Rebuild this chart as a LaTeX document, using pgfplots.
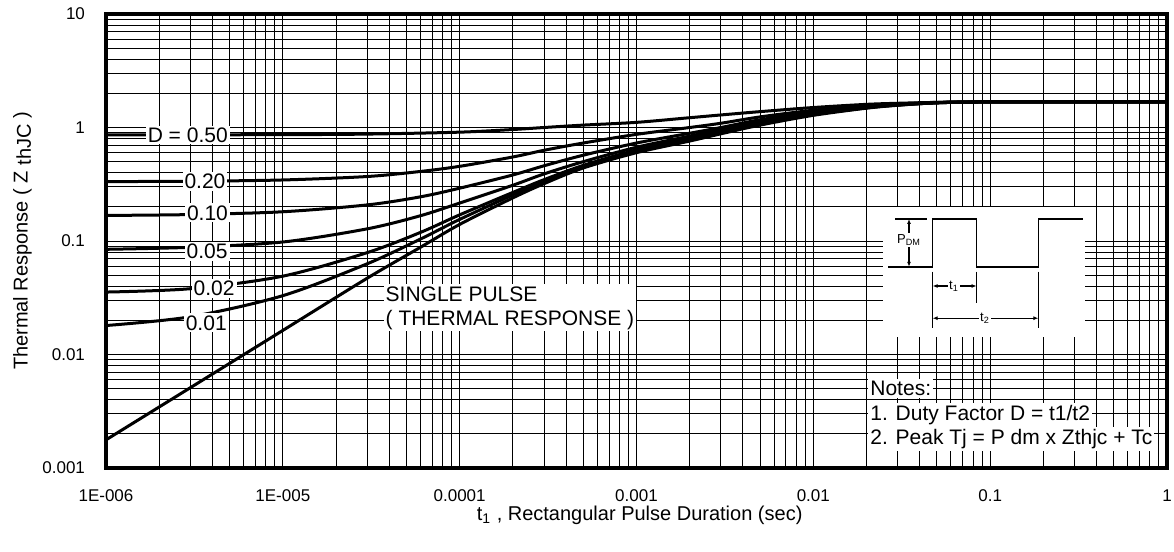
\documentclass[border=0pt]{standalone}
\usepackage{pgfplots}
\pgfplotsset{compat=1.18}
\usetikzlibrary{arrows.meta}
\usepackage{fontspec}
\setmainfont{Liberation Sans}
\tikzset{lbl/.style={fill=white, inner sep=1pt, font=\fontsize{10.5}{12}\selectfont}}
\pgfplotscreateplotcyclelist{blk}{black,solid,line width=1.5pt,smooth,mark=none\\}
\begin{document}
\begin{tikzpicture}
\useasboundingbox (-53pt,-42pt) rectangle (534pt,234pt);
\begin{axis}[
  at={(0pt,0pt)}, anchor=south west,
  width=530.5pt, height=227pt, scale only axis,
  xmode=log, ymode=log,
  xmin=1e-6, xmax=1, ymin=1e-3, ymax=10,
  xtick={1e-6,1e-5,1e-4,1e-3,1e-2,1e-1,1},
  xticklabels={1E-006,1E-005,0.0001,0.001,0.01,0.1,1},
  ytick={1e-3,1e-2,1e-1,1,10},
  yticklabels={0.001,0.01,0.1,1,10},
  grid=both,
  major grid style={black, line width=0.5pt},
  minor grid style={black, line width=0.5pt},
  major tick length=0pt, minor tick length=0pt,
  axis line style={black, line width=1.8pt},
  tick label style={font=\fontsize{8.5}{10}\selectfont},
  xticklabel style={anchor=center, yshift=-14pt},
  yticklabel style={anchor=east, xshift=-7pt},
  xlabel={t\textsubscript{1} , Rectangular Pulse Duration (sec)},
  ylabel={Thermal Response ( Z \raisebox{-0.3ex}{thJC} )},
  label style={font=\fontsize{10}{12}\selectfont},
  xlabel style={at={(axis description cs:0.503,-0.1035)}, anchor=center},
  ylabel style={at={(axis description cs:-0.0787,0.5)}, anchor=center},
  cycle list name=blk,
]
% D = 0.50
\addplot coordinates {(1e-6,0.86)(1e-5,0.865)(3e-5,0.875)(1e-4,0.91)(2e-4,0.96)(3e-4,1.0)(5e-4,1.05)(1e-3,1.11)(2e-3,1.22)(3e-3,1.29)(5e-3,1.38)(1e-2,1.50)(2e-2,1.60)(3e-2,1.635)(5e-2,1.665)(1e-1,1.68)(1,1.68)};
% D = 0.20
\addplot coordinates {(1e-6,0.334)(3e-6,0.336)(1e-5,0.345)(3e-5,0.37)(6e-5,0.41)(1e-4,0.455)(2e-4,0.55)(3e-4,0.63)(5e-4,0.73)(1e-3,0.87)(2e-3,1.0)(3e-3,1.09)(5e-3,1.24)(1e-2,1.42)(2e-2,1.56)(3e-2,1.61)(5e-2,1.665)(1e-1,1.68)(1,1.68)};
% D = 0.10
\addplot coordinates {(1e-6,0.168)(3e-6,0.171)(1e-5,0.181)(3e-5,0.208)(6e-5,0.245)(1e-4,0.292)(2e-4,0.382)(3e-4,0.46)(5e-4,0.57)(1e-3,0.73)(2e-3,0.89)(3e-3,1.0)(5e-3,1.17)(1e-2,1.38)(2e-2,1.54)(3e-2,1.60)(5e-2,1.66)(1e-1,1.68)(1,1.68)};
% D = 0.05
\addplot coordinates {(1e-6,0.0845)(3e-6,0.088)(1e-5,0.098)(3e-5,0.128)(6e-5,0.167)(1e-4,0.216)(2e-4,0.31)(3e-4,0.39)(5e-4,0.50)(1e-3,0.67)(2e-3,0.84)(3e-3,0.96)(5e-3,1.13)(1e-2,1.35)(2e-2,1.52)(3e-2,1.59)(5e-2,1.655)(1e-1,1.68)(1,1.68)};
% D = 0.02
\addplot coordinates {(1e-6,0.0355)(3e-6,0.038)(1e-5,0.049)(3e-5,0.079)(6e-5,0.119)(1e-4,0.17)(2e-4,0.268)(3e-4,0.347)(5e-4,0.464)(1e-3,0.635)(2e-3,0.80)(3e-3,0.92)(5e-3,1.09)(1e-2,1.32)(2e-2,1.50)(3e-2,1.58)(5e-2,1.65)(1e-1,1.68)(1,1.68)};
% D = 0.01
\addplot coordinates {(1e-6,0.018)(3e-6,0.0215)(1e-5,0.033)(3e-5,0.063)(6e-5,0.104)(1e-4,0.155)(2e-4,0.255)(3e-4,0.335)(5e-4,0.455)(1e-3,0.62)(2e-3,0.78)(3e-3,0.90)(5e-3,1.07)(1e-2,1.30)(2e-2,1.49)(3e-2,1.575)(5e-2,1.65)(1e-1,1.68)(1,1.68)};
% single pulse
\addplot coordinates {(1e-6,0.00177)(3e-6,0.0051)(1e-5,0.0163)(3e-5,0.047)(6e-5,0.088)(1e-4,0.14)(2e-4,0.24)(3e-4,0.32)(5e-4,0.44)(1e-3,0.60)(2e-3,0.76)(3e-3,0.88)(5e-3,1.05)(1e-2,1.28)(2e-2,1.48)(3e-2,1.57)(5e-2,1.65)(1e-1,1.68)(1,1.68)};
\node[lbl] at (axis cs:2.9e-6,0.86) {D = 0.50};
\node[lbl] at (axis cs:3.63e-6,0.335) {0.20};
\node[lbl] at (axis cs:3.75e-6,0.177) {0.10};
\node[lbl] at (axis cs:3.73e-6,0.081) {0.05};
\node[lbl] at (axis cs:4.09e-6,0.0383) {0.02};
\node[lbl] at (axis cs:3.69e-6,0.019) {0.01};
\node[lbl, anchor=west, align=left] at (axis cs:3.7e-5,0.0257) {SINGLE PULSE\\( THERMAL RESPONSE )};
\end{axis}
\begin{scope}[x=1pt,y=1pt]
  \fill[white] (388.5,65.5) rectangle (489.5,130.5);
  \draw[line width=0.8pt] (391.2,100.6) -- (413.3,100.6) -- (413.3,124.5) -- (435.3,124.5) -- (435.3,100.6) -- (466.2,100.6) -- (466.2,124.5) -- (488.7,124.5);
  \draw[line width=0.6pt] (394.5,124.5) -- (410.7,124.5);
  \draw[line width=0.6pt, {Latex[length=2.5pt,width=2pt]}-{Latex[length=2.5pt,width=2pt]}] (401.5,124.5) -- (401.5,100.6);
  \node[fill=white, inner sep=0.5pt, font=\fontsize{6.5}{7}\selectfont] at (401.5,114) {P\textsubscript{DM}};
  \draw[line width=0.6pt] (413.3,98.2) -- (413.3,69.9);
  \draw[line width=0.6pt] (435.3,98.2) -- (435.3,82.4);
  \draw[line width=0.6pt] (466.2,98.2) -- (466.2,69.9);
  \draw[line width=0.6pt, {Latex[length=2.5pt,width=2pt]}-{Latex[length=2.5pt,width=2pt]}] (413.3,91) -- (435.3,91);
  \node[fill=white, inner sep=0.5pt, font=\fontsize{6.5}{7}\selectfont] at (424,91) {t\textsubscript{1}};
  \draw[line width=0.6pt, {Latex[length=2.5pt,width=2pt]}-{Latex[length=2.5pt,width=2pt]}] (413.3,74.9) -- (466.2,74.9);
  \node[fill=white, inner sep=0.5pt, font=\fontsize{6.5}{7}\selectfont] at (439.5,74.9) {t\textsubscript{2}};
  \node[anchor=base west, fill=white, inner sep=1pt, font=\fontsize{10.5}{12}\selectfont] at (381,36.25) {Notes:};
  \node[anchor=base west, fill=white, inner sep=1pt, font=\fontsize{10.5}{12}\selectfont] at (381,23.75) {1. Duty Factor D = t1/t2};
  \node[anchor=base west, fill=white, inner sep=1pt, font=\fontsize{10.5}{12}\selectfont] at (381,11.75) {2. Peak Tj = P dm x Zthjc + Tc};
\end{scope}
\end{tikzpicture}
\end{document}
